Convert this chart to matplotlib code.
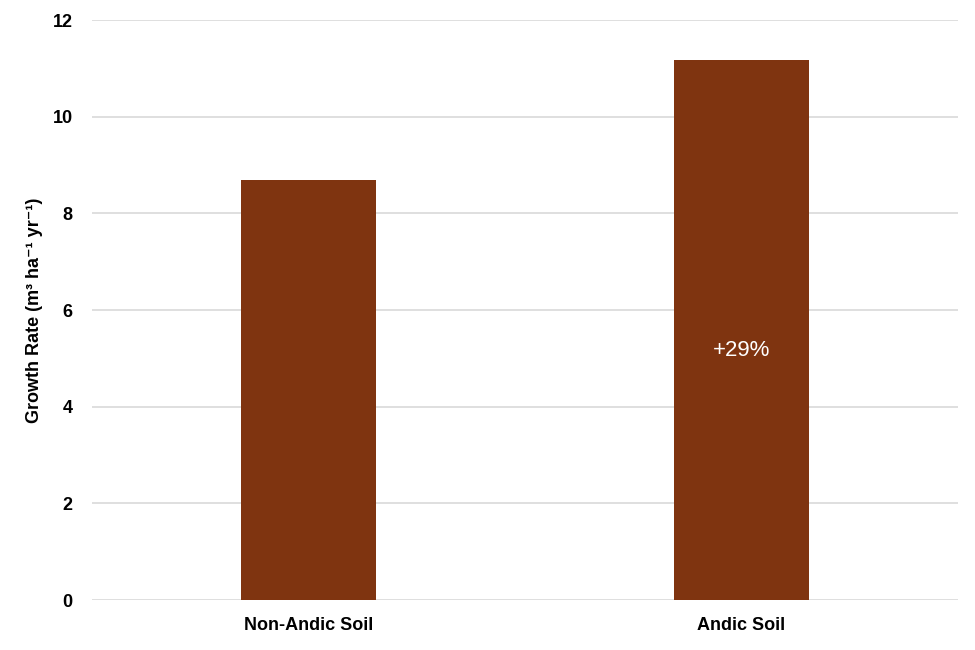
import numpy as np
import matplotlib.pyplot as plt

# values
categories = ['Non-Andic Soil', 'Andic Soil']
growth = [8.68, 11.18]
yticks = [0, 2, 4, 6, 8, 10, 12]
note = '+29%'

plt.rcParams['font.family'] = ['Liberation Sans', 'DejaVu Sans']

fig = plt.figure(figsize=(9.75, 6.5), dpi=100)
ax = fig.add_axes([0.0944, 0.0769, 0.8882, 0.8923])

x = np.arange(len(categories))
ax.bar(x, growth, width=0.31, color='#7f3410', zorder=3)

# annotation inside the second bar
ax.text(x[1], 5.17, note, color='white', fontsize=16, ha='center', va='center', zorder=4)

ax.set_xlim(-0.5, 1.5)
ax.set_ylim(0, 12)
ax.set_yticks(yticks)
ax.set_xticks(x)
ax.set_xticklabels(categories, fontsize=13, fontweight='bold')
for lbl in ax.get_yticklabels():
    lbl.set_fontsize(13)
    lbl.set_fontweight('bold')
ax.tick_params(axis='both', length=0)
ax.tick_params(axis='y', pad=14)
ax.tick_params(axis='x', pad=12)

ax.grid(axis='y', color='#d9d9d9', linewidth=1.2, zorder=0)
for s in ax.spines.values():
    s.set_visible(False)

ax.set_ylabel('Growth Rate (m³ ha⁻¹ yr⁻¹)', fontsize=13, fontweight='bold', labelpad=7)

fig.savefig('out.png', dpi=100)
